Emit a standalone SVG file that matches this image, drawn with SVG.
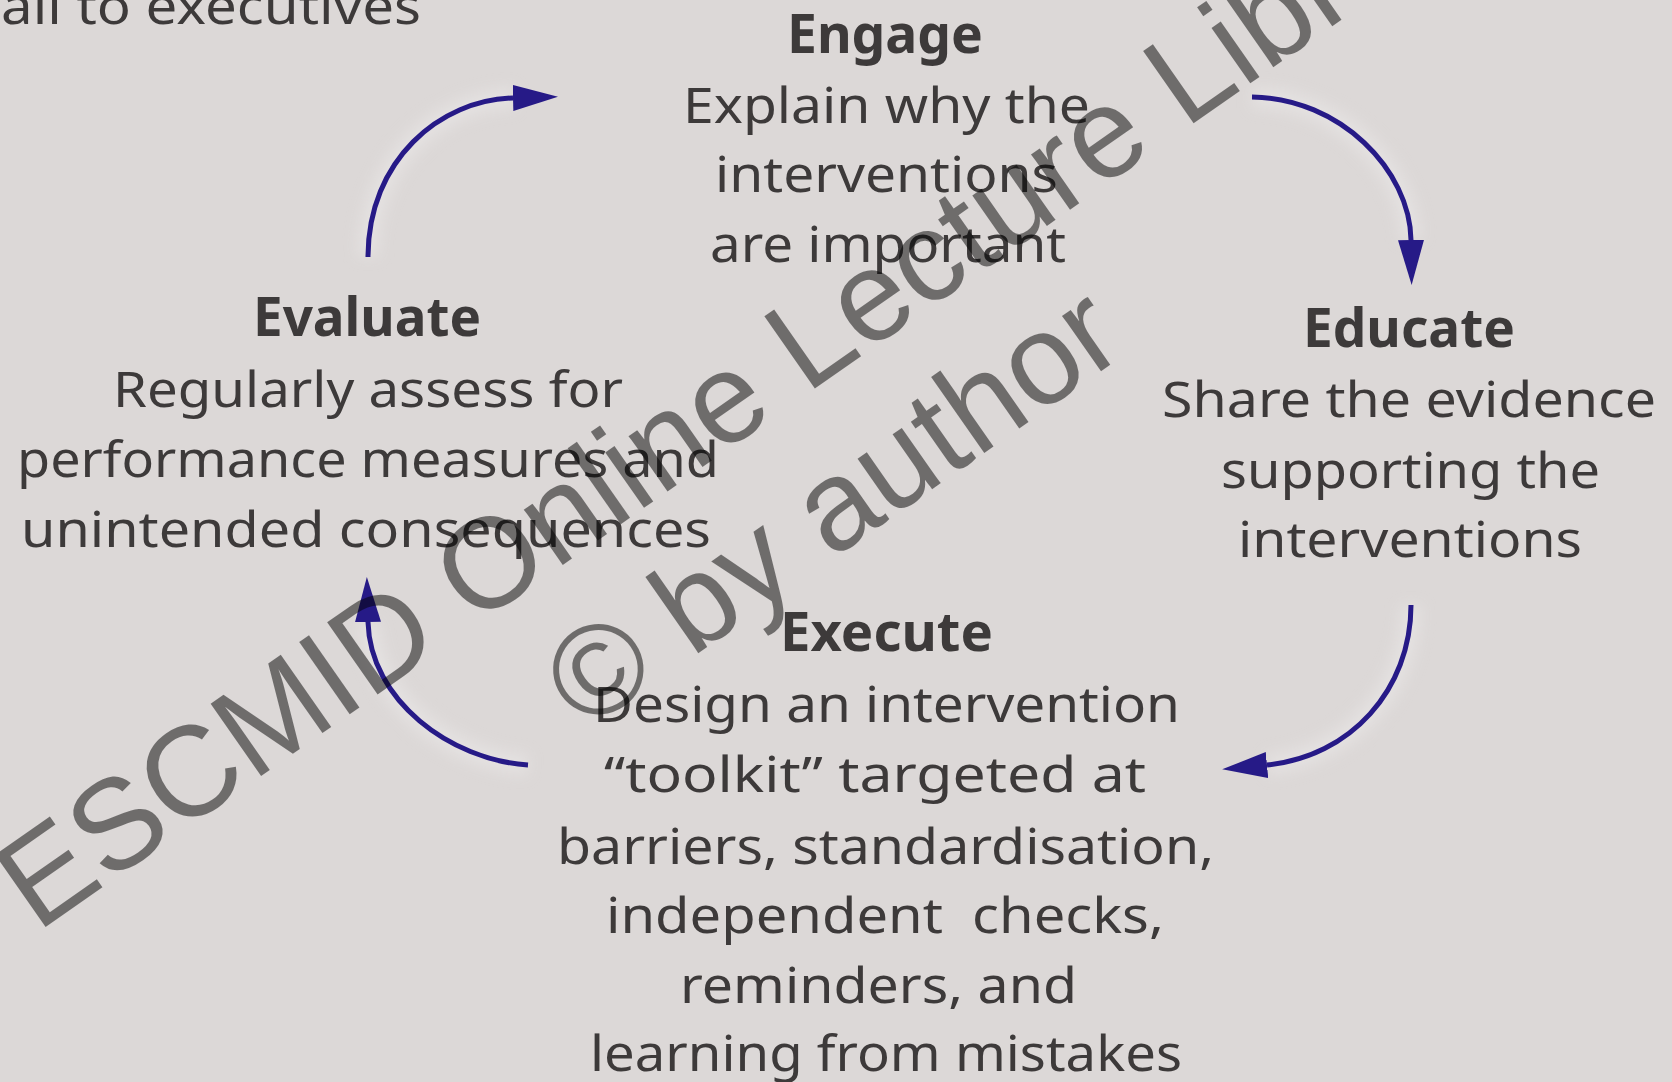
<svg xmlns="http://www.w3.org/2000/svg" width="1672" height="1082" viewBox="0 0 1672 1082">
<defs>
<style>
.body{font-family:"Noto Sans","Open Sans","DejaVu Sans",sans-serif;font-size:50px;fill:#3d3a3a}
.head{font-family:"Noto Sans","Open Sans","DejaVu Sans",sans-serif;font-size:54px;font-weight:700;fill:#3d3a3a}
.arrow{fill:none;stroke:#261a87;stroke-width:5;stroke-linecap:butt}
.halo{fill:none;stroke:#eeecec;stroke-width:22;opacity:0.45}
.wm{font-family:"Liberation Sans",Arial,sans-serif;font-size:128px;fill:#000;fill-opacity:0.5}
</style>
<marker id="head" markerUnits="userSpaceOnUse" viewBox="0 0 45 26" refX="0" refY="13" markerWidth="45" markerHeight="26" orient="auto">
<path d="M0,0 L45,13 L0,26 Z" fill="#261a87"/>
</marker>
<filter id="blur" x="-20%" y="-20%" width="140%" height="140%"><feGaussianBlur stdDeviation="7"/></filter>
</defs>
<rect width="1672" height="1082" fill="#dcd8d7"/>

<text class="body" x="1" y="24" textLength="420" lengthAdjust="spacingAndGlyphs">all to executives</text>

<g id="connectors">
<g filter="url(#blur)">
<path class="halo" d="M368,257 C368,160 440,100 515,98"/>
<path class="halo" d="M1252,97 C1340,98 1410,170 1411,240"/>
<path class="halo" d="M1411,605 C1411,690 1350,755 1267,765"/>
<path class="halo" d="M528,765 C450,760 372,700 369,622"/>
</g>
<path class="arrow" d="M368,257 C368,160 440,100 513,98" marker-end="url(#head)"/>
<path class="arrow" d="M1252,97 C1340,98 1410,170 1411,240" marker-end="url(#head)"/>
<path class="arrow" d="M1411,605 C1411,690 1350,757 1267,765" marker-end="url(#head)"/>
<path class="arrow" d="M528,765 C450,760 370,700 368,622" marker-end="url(#head)"/>
</g>

<g id="engage">
<text class="head" x="787" y="53" textLength="196" lengthAdjust="spacingAndGlyphs">Engage</text>
<text class="body" x="683" y="123" textLength="407" lengthAdjust="spacingAndGlyphs">Explain why the</text>
<text class="body" x="715" y="192" textLength="343" lengthAdjust="spacingAndGlyphs">interventions</text>
<text class="body" x="710" y="262" textLength="356" lengthAdjust="spacingAndGlyphs">are important</text>
</g>

<g id="evaluate">
<text class="head" x="253" y="336" textLength="228" lengthAdjust="spacingAndGlyphs">Evaluate</text>
<text class="body" x="113" y="407" textLength="510" lengthAdjust="spacingAndGlyphs">Regularly assess for</text>
<text class="body" x="17" y="477" textLength="702" lengthAdjust="spacingAndGlyphs">performance measures and</text>
<text class="body" x="21" y="547" textLength="690" lengthAdjust="spacingAndGlyphs">unintended consequences</text>
</g>

<g id="educate">
<text class="head" x="1303" y="347" textLength="212" lengthAdjust="spacingAndGlyphs">Educate</text>
<text class="body" x="1162" y="417" textLength="494" lengthAdjust="spacingAndGlyphs">Share the evidence</text>
<text class="body" x="1221" y="488" textLength="379" lengthAdjust="spacingAndGlyphs">supporting the</text>
<text class="body" x="1238" y="557" textLength="344" lengthAdjust="spacingAndGlyphs">interventions</text>
</g>

<g id="execute">
<text class="head" x="780" y="651" textLength="213" lengthAdjust="spacingAndGlyphs">Execute</text>
<text class="body" x="593" y="722" textLength="587" lengthAdjust="spacingAndGlyphs">Design an intervention</text>
<text class="body" x="604" y="792" textLength="542" lengthAdjust="spacingAndGlyphs">“toolkit” targeted at</text>
<text class="body" x="557" y="864" textLength="657" lengthAdjust="spacingAndGlyphs">barriers, standardisation,</text>
<text class="body" x="606" y="933" textLength="558" lengthAdjust="spacingAndGlyphs" style="white-space:pre">independent  checks,</text>
<text class="body" x="680" y="1003" textLength="397" lengthAdjust="spacingAndGlyphs">reminders, and</text>
<text class="body" x="590" y="1071" textLength="592" lengthAdjust="spacingAndGlyphs">learning from mistakes</text>
</g>

<g id="watermark" transform="translate(37,933) rotate(-35)">
<text class="wm" x="0" y="0">ESCMID Online Lecture Library</text>
<text class="wm" x="564" y="150">© by author</text>
</g>
</svg>
